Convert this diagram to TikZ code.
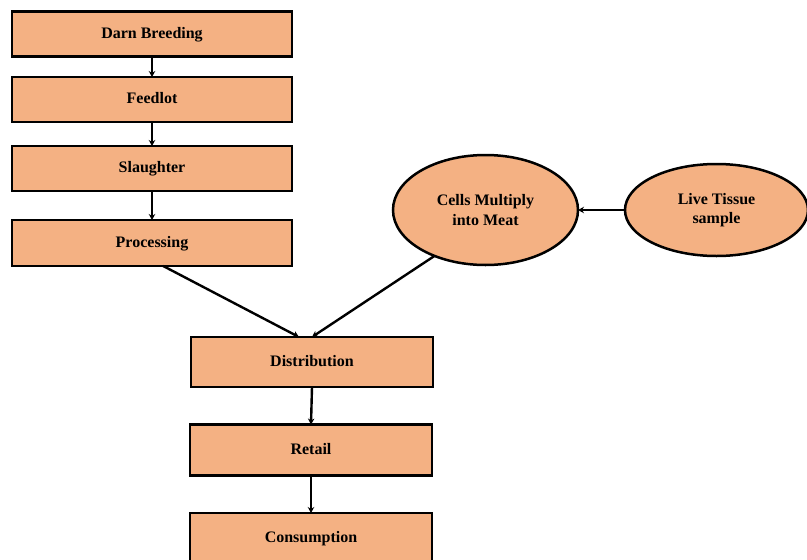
\documentclass[tikz,border=0pt]{standalone}
\usepackage{fontspec}
\setmainfont{Liberation Serif}
\usetikzlibrary{shapes.geometric,arrows.meta,calc}
\definecolor{boxfill}{HTML}{F4B183}
\begin{document}
\begin{tikzpicture}[x=1pt,y=-1pt,
  font=\fontsize{16}{19.5}\selectfont\bfseries,
  stage/.style={rectangle,draw=black,line width=2.8pt,fill=boxfill,
    minimum width=280pt,minimum height=45pt,inner sep=0pt,outer sep=0pt,
    text height=11pt,text depth=3pt},
  lower/.style={stage,minimum width=242pt,minimum height=50pt},
  blob/.style={ellipse,draw=black,line width=2.5pt,fill=boxfill,
    align=center,inner sep=0pt,outer sep=0pt},
  flow/.style={draw=black,line width=2.4pt,
    -{Stealth[length=6pt,width=6.5pt]}}]
  \useasboundingbox (0,0) rectangle (807,560);
  \begin{scope}
  \clip (0,0) rectangle (807,560);
  % left column: conventional supply chain
  \node[stage] (breed) at (152,34) {Darn Breeding};
  \node[stage] (feed)  at (152,99.5) {Feedlot};
  \node[stage] (slau)  at (152,168.5) {Slaughter};
  \node[stage,minimum height=46pt] (proc) at (152,243) {Processing};
  % lower column: shared downstream stages
  \node[lower] (dist) at (312,362) {Distribution};
  \node[lower,minimum height=51pt] (ret) at (311,450) {Retail};
  \node[lower] (cons) at (311,538) {Consumption};
  % cultured meat branch
  \node[blob,minimum width=185pt,minimum height=110pt] (cells) at (485.5,210) {Cells Multiply\\into Meat};
  \node[blob,minimum width=183pt,minimum height=92pt] (live) at (716.5,210) {Live Tissue\\sample};
  % connectors
  \draw[flow] (breed.south) -- (feed.north);
  \draw[flow] (feed.south) -- (slau.north);
  \draw[flow] (slau.south) -- (proc.north);
  \draw[flow] ($(proc.south west)!0.54!(proc.south east)$) -- ($(dist.north west)!0.446!(dist.north east)$);
  \draw[flow] (cells.-138) -- (dist.north);
  \draw[flow] (live.west) -- (cells.east);
  \draw[flow] (dist.south) -- (ret.north);
  \draw[flow] (ret.south) -- (cons.north);
  \end{scope}
\end{tikzpicture}
\end{document}
